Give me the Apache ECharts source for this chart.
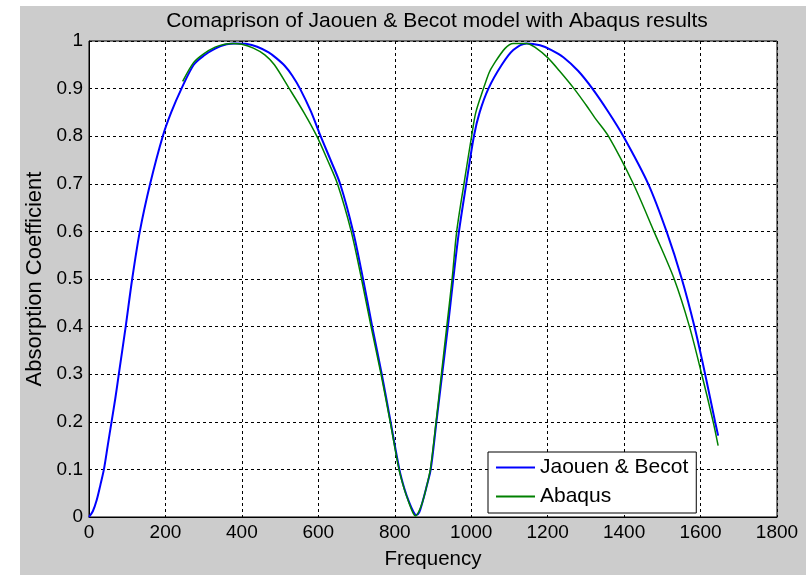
<!DOCTYPE html>
<html>
<head>
<meta charset="utf-8">
<script src="https://cdn.jsdelivr.net/npm/echarts@6/dist/echarts.min.js"></script>
<style>
  html, body { margin: 0; padding: 0; background: #ffffff; }
  #bg { position: absolute; left: 20px; top: 6px; width: 786px; height: 569px; background: #cccccc; }
  #chart { position: absolute; left: 0; top: 0; width: 806px; height: 575px; }
</style>
</head>
<body>
<div id="bg"></div>
<div id="chart"></div>
<script>
// Jaouen & Becot model (blue)
const jbFreq = [0, 10, 20, 30, 39, 49, 59, 69, 78, 96, 113, 133, 160, 193, 215, 242, 274, 300, 330, 360, 382, 410, 440, 470, 490, 512, 532, 552, 580, 606, 632, 657, 691, 717, 741, 766, 789, 812, 825, 838, 848, 856, 864, 872, 882, 894, 909, 924, 939, 953, 968, 987, 1007, 1022, 1045, 1080, 1110, 1145, 1180, 1210, 1241, 1280, 1317, 1358, 1398, 1463, 1511, 1551, 1584, 1612, 1638, 1646];
const jbAbs  = [0, 0.012, 0.035, 0.068, 0.1, 0.15, 0.2, 0.25, 0.3, 0.4, 0.5, 0.6, 0.7, 0.8, 0.85, 0.9, 0.95, 0.969, 0.984, 0.993, 0.995, 0.994, 0.988, 0.976, 0.964, 0.948, 0.927, 0.9, 0.853, 0.8, 0.75, 0.7, 0.6, 0.5, 0.4, 0.3, 0.2, 0.1, 0.06, 0.03, 0.012, 0.004, 0.01, 0.03, 0.06, 0.1, 0.2, 0.3, 0.4, 0.5, 0.6, 0.7, 0.8, 0.85, 0.9, 0.95, 0.981, 0.995, 0.991, 0.981, 0.966, 0.937, 0.9, 0.852, 0.8, 0.7, 0.6, 0.5, 0.4, 0.3, 0.2, 0.171];
// Abaqus (green)
const abFreq = [245, 274, 300, 330, 355, 377, 400, 430, 460, 485, 524, 562, 596, 624, 650, 686, 713, 738, 764, 788, 811, 825, 838, 848, 854, 862, 872, 882, 893, 908, 922, 936, 950, 962, 981, 1001, 1012, 1032, 1047, 1058, 1088, 1110, 1145, 1170, 1200, 1230, 1269, 1300, 1324, 1359, 1424, 1478, 1531, 1571, 1603, 1633, 1646];
const abAbs  = [0.915, 0.955, 0.973, 0.987, 0.993, 0.995, 0.993, 0.985, 0.971, 0.95, 0.9, 0.85, 0.8, 0.75, 0.7, 0.6, 0.5, 0.4, 0.3, 0.2, 0.1, 0.058, 0.028, 0.008, 0.002, 0.01, 0.03, 0.06, 0.1, 0.2, 0.3, 0.4, 0.5, 0.6, 0.7, 0.8, 0.85, 0.9, 0.934, 0.95, 0.984, 0.995, 0.995, 0.985, 0.965, 0.938, 0.9, 0.866, 0.838, 0.8, 0.7, 0.6, 0.5, 0.4, 0.3, 0.2, 0.15];

const seriesNames = ['Jaouen & Becot', 'Abaqus'];
const titleText = 'Comaprison of Jaouen & Becot model with Abaqus results';
const xLabel = 'Frequency';
const yLabel = 'Absorption Coefficient';

const FONT = '"Liberation Sans", Arial, sans-serif';
const pairs = (xs, ys) => xs.map((x, i) => [x, ys[i]]);

const chart = echarts.init(document.getElementById('chart'), null, { renderer: 'canvas' });
chart.setOption({
  animation: false,
  backgroundColor: 'transparent',
  textStyle: { fontFamily: FONT, color: '#000' },
  title: {
    text: titleText,
    left: 432, textAlign: 'center', top: 5,
    textStyle: { fontFamily: FONT, fontSize: 21, fontWeight: 'normal', color: '#000', lineHeight: 22 }
  },
  grid: {
    left: 89, right: 29, top: 41, bottom: 49,
    show: true, backgroundColor: '#ffffff', borderColor: '#000', borderWidth: 1
  },
  legend: {
    data: seriesNames,
    orient: 'vertical',
    left: 488, top: 452,
    padding: [5, 8, 6, 8],
    itemGap: 8,
    itemWidth: 39, itemHeight: 2,
    icon: 'rect',
    selectedMode: false,
    backgroundColor: '#ffffff', borderColor: '#000', borderWidth: 1, borderRadius: 0,
    textStyle: { fontFamily: FONT, fontSize: 21, color: '#000', lineHeight: 20 }
  },
  xAxis: {
    type: 'value', min: 0, max: 1800, interval: 200,
    name: xLabel, nameLocation: 'middle', nameGap: 32,
    nameTextStyle: { fontFamily: FONT, fontSize: 20.5, color: '#000' },
    axisLine: { show: true, lineStyle: { color: '#000', width: 1 } },
    axisTick: { show: false },
    axisLabel: { fontFamily: FONT, fontSize: 19, color: '#000', margin: 6,
      formatter: v => String(v) },
    splitLine: { show: true, lineStyle: { color: '#000', width: 1, type: [3, 3] } }
  },
  yAxis: {
    type: 'value', min: 0, max: 1, interval: 0.1,
    name: yLabel, nameLocation: 'middle', nameGap: 40,
    nameTextStyle: { fontFamily: FONT, fontSize: 22, color: '#000' },
    axisLine: { show: true, lineStyle: { color: '#000', width: 1 } },
    axisTick: { show: false },
    axisLabel: { fontFamily: FONT, fontSize: 19, color: '#000', margin: 6,
      formatter: v => String(Math.round(v * 10) / 10) },
    splitLine: { show: true, lineStyle: { color: '#000', width: 1, type: [3, 3] } }
  },
  series: [
    {
      name: seriesNames[0], type: 'line', data: pairs(jbFreq, jbAbs),
      showSymbol: false, smooth: 0.3, color: '#0000ff',
      lineStyle: { color: '#0000ff', width: 2 }, z: 2
    },
    {
      name: seriesNames[1], type: 'line', data: pairs(abFreq, abAbs),
      showSymbol: false, smooth: 0.3, color: '#008000',
      lineStyle: { color: '#008000', width: 1.5 }, z: 3
    }
  ]
});
</script>
</body>
</html>
